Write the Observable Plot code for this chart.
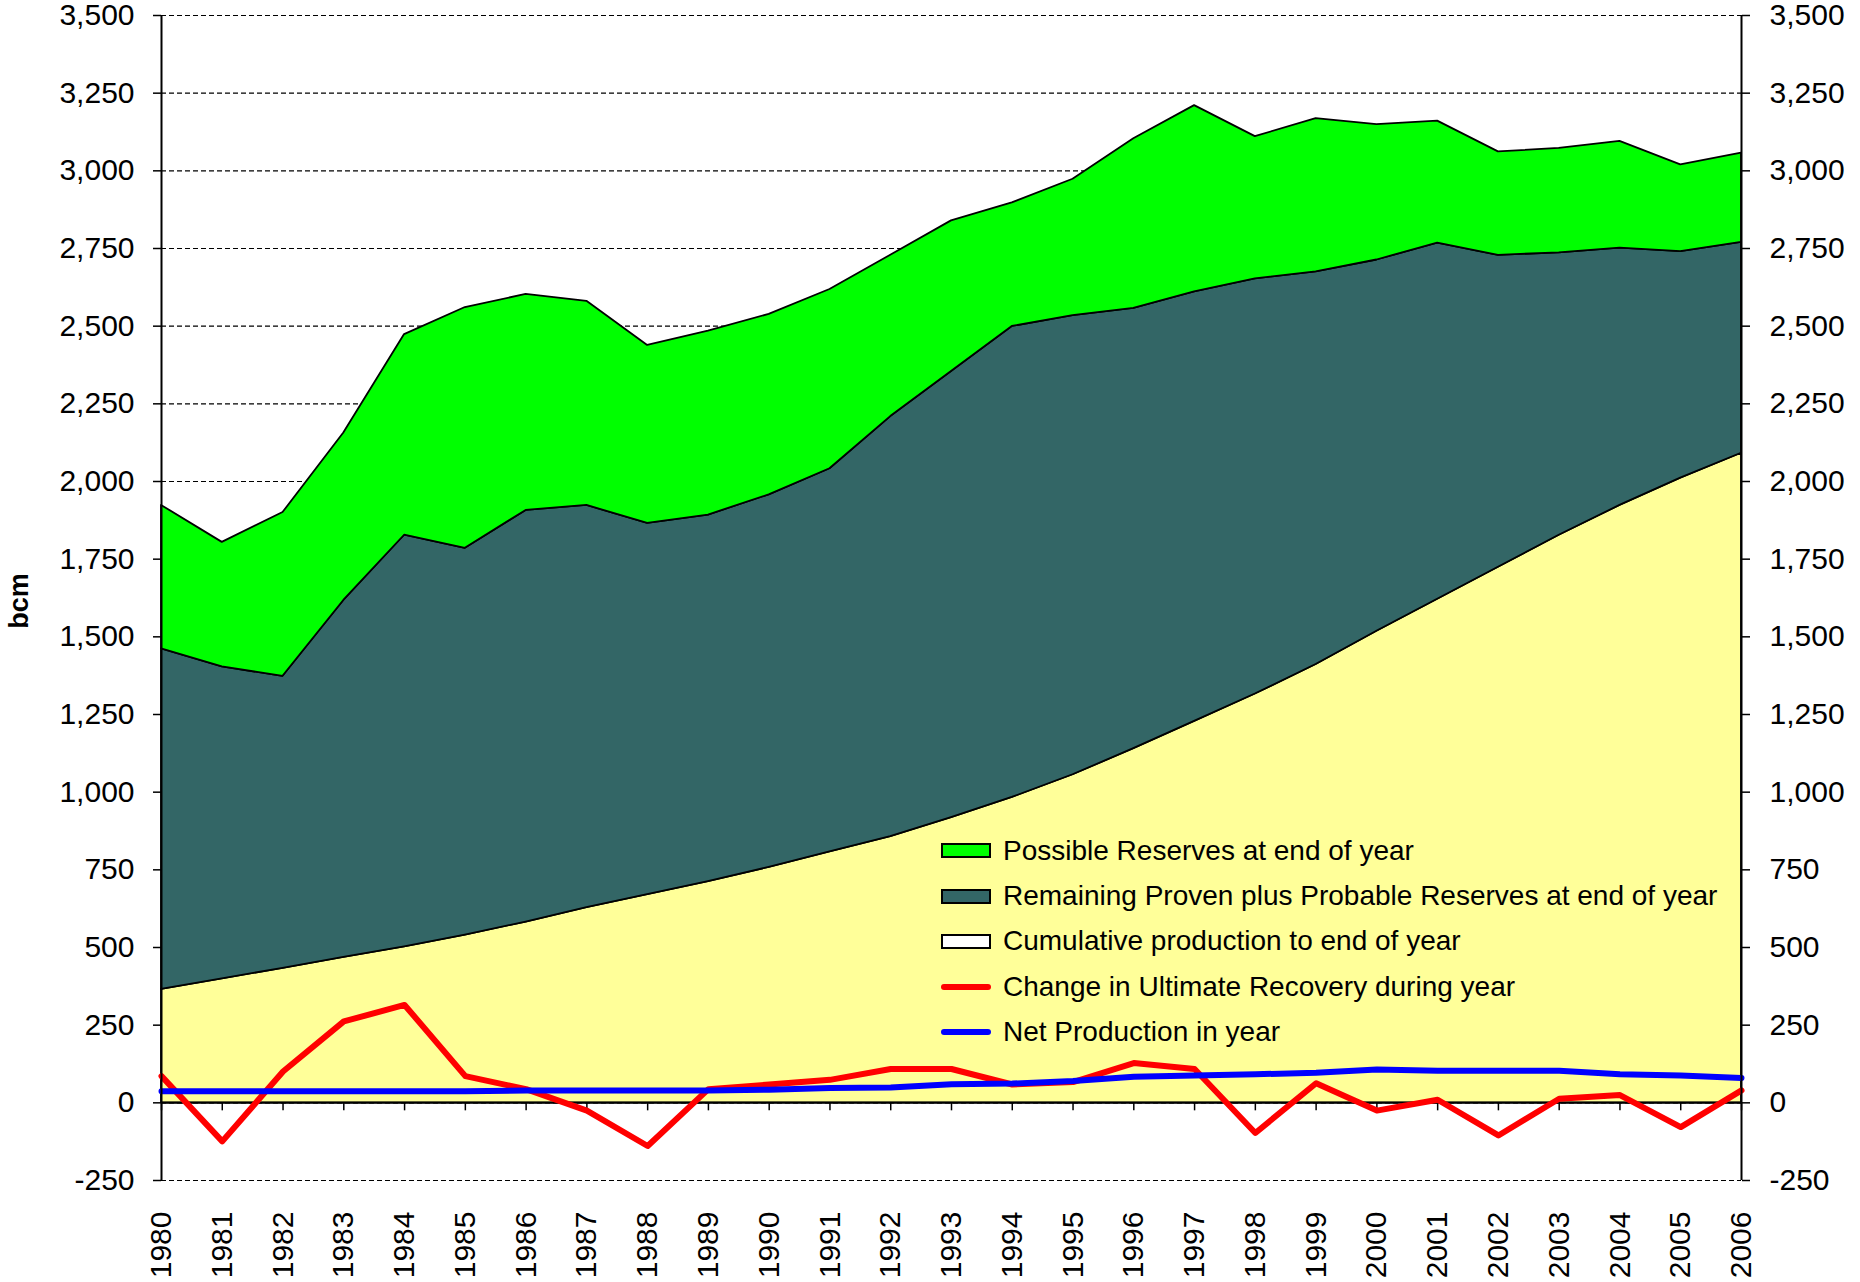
<!DOCTYPE html>
<html>
<head>
<meta charset="utf-8">
<script src="https://cdn.jsdelivr.net/npm/d3@7"></script>
<script src="https://cdn.jsdelivr.net/npm/@observablehq/plot@0.6"></script>
<style>
  body { margin: 0; background: #fff; font-family: "Liberation Sans", Arial, sans-serif; }
  #wrap { position: relative; width: 1860px; height: 1282px; }
  #legend { position: absolute; left: 941px; top: 828px; font-size: 28px; color: #000; }
  .row { height: 45.4px; display: flex; align-items: center; white-space: pre; }
  .sw { width: 50px; height: 15px; box-sizing: border-box; border: 2px solid #000; margin-right: 12px; flex: none; }
  .ln { width: 50px; height: 6px; border-radius: 3px; margin-right: 12px; flex: none; }
</style>
</head>
<body>
<div id="wrap"><div id="chart"></div><div id="legend"></div></div>
<script>
const years = [1980,1981,1982,1983,1984,1985,1986,1987,1988,1989,1990,1991,1992,1993,1994,1995,1996,1997,1998,1999,2000,2001,2002,2003,2004,2005,2006];
const cumulativeProduction = [365,399,433,468,502,540,582,628,670,712,758,808,857,918,983,1056,1140,1228,1316,1411,1518,1621,1724,1827,1923,2011,2091];
const remainingReserves = [1096,1004,940,1149,1325,1245,1325,1295,1195,1180,1199,1233,1352,1436,1516,1478,1417,1382,1336,1264,1195,1146,1004,909,828,729,679];
const possibleReserves = [462,401,527,539,646,775,695,657,573,592,581,577,519,485,398,439,546,600,458,493,436,393,333,336,344,279,287];
const changeUltimateRecovery = [86,-124,101,262,315,86,44,-25,-139,44,59,74,109,109,59,67,128,109,-97,63,-25,10,-105,13,25,-78,40];
const netProduction = [37,37,37,37,37,37,40,40,40,40,42,48,49,60,62,70,84,88,92,97,107,103,103,103,92,88,80];
const yTicks = [-250,0,250,500,750,1000,1250,1500,1750,2000,2250,2500,2750,3000,3250,3500];
const seriesNames = ["Cumulative production to end of year", "Remaining Proven plus Probable Reserves at end of year", "Possible Reserves at end of year"];
const areaColors = ["#FFFF99", "#336666", "#00FF00"];
const lineNames = ["Change in Ultimate Recovery during year", "Net Production in year"];
const lineColors = ["#FF0000", "#0000FF"];
const yAxisTitle = "bcm";

const stackData = years.flatMap((year, i) => [
  {year, series: seriesNames[0], value: cumulativeProduction[i]},
  {year, series: seriesNames[1], value: remainingReserves[i]},
  {year, series: seriesNames[2], value: possibleReserves[i]}
]);
const redData = years.map((year, i) => ({year, value: changeUltimateRecovery[i]}));
const blueData = years.map((year, i) => ({year, value: netProduction[i]}));
const fmt = d => d.toLocaleString("en-US");

const chart = Plot.plot({
  width: 1860,
  height: 1282,
  marginLeft: 161,
  marginRight: 119,
  marginTop: 15,
  marginBottom: 102,
  style: {fontFamily: "'Liberation Sans', Arial, sans-serif", color: "#000", background: "transparent"},
  x: {domain: [1980, 2006]},
  y: {domain: [-250, 3500]},
  color: {domain: seriesNames, range: areaColors},
  marks: [
    Plot.ruleY(yTicks, {stroke: "#000", strokeWidth: 1.2, strokeDasharray: "5,3"}),
    Plot.areaY(stackData, {x: "year", y: "value", z: "series", fill: "series", order: seriesNames, stroke: "#000", strokeWidth: 1.8}),
    Plot.ruleY([0], {stroke: "#000", strokeWidth: 2}),
    Plot.ruleX(years, {x: d => d, y1: 0, y2: 0, insetBottom: -8, stroke: "#000", strokeWidth: 1.5}),
    Plot.line(redData, {x: "year", y: "value", stroke: lineColors[0], strokeWidth: 6, strokeLinejoin: "round"}),
    Plot.line(blueData, {x: "year", y: "value", stroke: lineColors[1], strokeWidth: 6, strokeLinejoin: "round"}),
    Plot.ruleX([1980, 2006], {stroke: "#000", strokeWidth: 2}),
    Plot.axisY({anchor: "left", label: null, ticks: yTicks, tickFormat: fmt, tickSize: 8, tickPadding: 19, fontSize: 30, strokeWidth: 1.5}),
    Plot.axisY({anchor: "right", label: null, ticks: yTicks, tickFormat: fmt, tickSize: 8, tickPadding: 20, fontSize: 30, strokeWidth: 1.5}),
    Plot.axisX({label: null, ticks: years, tickFormat: d => String(d), tickRotate: -90, tickSize: 0, tickPadding: 31, fontSize: 30}),
    Plot.text([yAxisTitle], {frameAnchor: "left", dx: -142, dy: 3, rotate: -90, text: d => d, textAnchor: "middle", fontWeight: "bold", fontSize: 27})
  ]
});
document.getElementById("chart").appendChild(chart);

const legend = document.getElementById("legend");
const items = [
  {name: seriesNames[2], type: "sw", color: areaColors[2]},
  {name: seriesNames[1], type: "sw", color: areaColors[1]},
  {name: seriesNames[0], type: "sw", color: "#FFFFFF"},
  {name: lineNames[0], type: "ln", color: lineColors[0]},
  {name: lineNames[1], type: "ln", color: lineColors[1]}
];
for (const it of items) {
  const row = document.createElement("div");
  row.className = "row";
  const s = document.createElement("div");
  s.className = it.type;
  s.style.background = it.color;
  row.appendChild(s);
  const t = document.createElement("span");
  t.textContent = it.name;
  row.appendChild(t);
  legend.appendChild(row);
}
</script>
</body>
</html>
